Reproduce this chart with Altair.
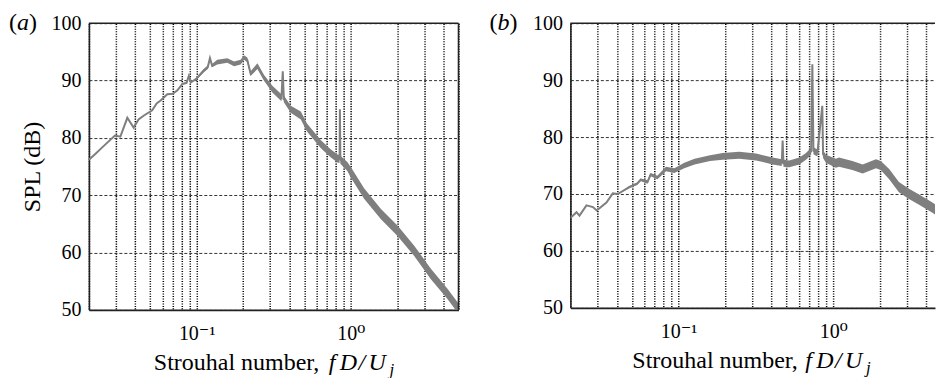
import altair as alt
import pandas as pd

FONT = "'Liberation Serif', 'Times New Roman', Times, 'DejaVu Serif', serif"

# ---------------- data ----------------
st_a = [0.020, 0.022, 0.025, 0.0295, 0.032, 0.0355, 0.039, 0.042, 0.0455, 0.0515,
        0.055, 0.0584, 0.0645, 0.070, 0.075, 0.081, 0.086, 0.089, 0.092, 0.0995,
        0.111, 0.118, 0.122, 0.126, 0.136, 0.158, 0.175, 0.193, 0.203, 0.213,
        0.224, 0.248, 0.273, 0.31, 0.355, 0.362, 0.368, 0.408, 0.474, 0.52,
        0.64, 0.74, 0.82, 0.846, 0.850, 0.856, 0.95, 1.0, 1.22, 1.57,
        2.01, 2.58, 3.30, 4.24, 5.0]
spl_a = [76.2, 77.2, 78.6, 80.4, 80.2, 83.5, 81.8, 83.2, 83.9, 84.8,
         86.0, 86.5, 87.6, 87.7, 88.3, 89.4, 89.6, 90.8, 89.7, 90.3,
         91.7, 92.3, 93.9, 92.6, 93.2, 93.5, 92.9, 93.2, 94.0, 93.6,
         91.2, 92.5, 90.5, 88.5, 87.0, 91.6, 86.8, 85.0, 83.9, 81.8,
         78.9, 77.3, 76.4, 76.3, 85.0, 76.2, 75.0, 74.0, 70.3, 66.7,
         63.8, 60.3, 56.3, 52.8, 50.2]
spread_a = [0, 0, 0, 0, 0, 0, 0, 0, 0, 0,
            0, 0, 0, 0, 0, 0, 0, 0, 0, 0.2,
            0.3, 0.3, 0, 0.3, 0.4, 0.4, 0.4, 0.4, 0.4, 0.4,
            0.4, 0.5, 0.5, 0.6, 0.6, 0, 0.6, 0.6, 0.7, 0.7,
            0.7, 0.7, 0.7, 0.7, 0, 0.7, 0.8, 0.9, 0.9, 0.9,
            0.9, 0.9, 0.9, 0.9, 0.9]

st_b = [0.020, 0.0219, 0.0229, 0.0254, 0.028, 0.0296, 0.0342, 0.0376, 0.0405, 0.048,
        0.054, 0.057, 0.063, 0.066, 0.073, 0.083, 0.094, 0.109, 0.127, 0.16,
        0.193, 0.247, 0.317, 0.406, 0.465, 0.471, 0.477, 0.52, 0.604, 0.667,
        0.72, 0.733, 0.745, 0.79, 0.850, 0.86, 0.897, 1.04, 1.09, 1.33,
        1.55, 1.89, 2.03, 2.30, 2.66, 3.09, 3.59, 4.38, 4.55]
spl_b = [65.8, 66.8, 66.2, 68.0, 67.7, 67.1, 68.5, 70.1, 70.0, 71.2,
         71.8, 72.5, 72.1, 73.4, 72.9, 74.4, 74.1, 75.0, 75.7, 76.3,
         76.6, 76.8, 76.5, 75.8, 75.5, 79.4, 75.4, 75.3, 75.8, 76.6,
         77.5, 92.8, 77.6, 77.2, 85.5, 77.0, 76.2, 75.4, 75.6, 75.0,
         74.4, 75.3, 75.0, 73.5, 71.2, 70.0, 69.0, 67.6, 67.3]
spread_b = [0, 0, 0, 0, 0, 0, 0, 0, 0, 0.2,
            0.2, 0.2, 0.3, 0.3, 0.3, 0.4, 0.4, 0.5, 0.5, 0.5,
            0.6, 0.6, 0.6, 0.6, 0.6, 0, 0.6, 0.6, 0.6, 0.6,
            0.6, 0, 0.6, 0.6, 0, 0.7, 0.7, 0.8, 0.8, 0.8,
            0.8, 0.8, 0.8, 0.9, 0.9, 0.9, 0.9, 0.9, 0.9]

x_grid = [0.02, 0.03, 0.04, 0.05, 0.06, 0.07, 0.08, 0.09,
          0.1, 0.2, 0.3, 0.4, 0.5, 0.6, 0.7, 0.8, 0.9,
          1, 2, 3, 4, 5]
y_ticks = [50, 60, 70, 80, 90, 100]

panel_labels = ["a", "b"]
x_title_main = "Strouhal number,"
x_title_ital = ["f", "D", "/", "U"]
x_title_sub = "j"
y_title = "SPL (dB)"

LINE_COLOR = "#7f7f7f"


def txt(s, x, y, size=22, style="normal"):
    return alt.Chart(pd.DataFrame({"k": [0]})).mark_text(
        text=s, font=FONT, fontSize=size, fontStyle=style, align="left",
        baseline="alphabetic", color="black").encode(x=alt.value(x), y=alt.value(y))


def panel(st, spl, spread, xmax, width, height, letter, show_ytitle, right_border,
          title_x, ital_x, letter_x):
    df = pd.DataFrame({
        "st": st,
        "spl": spl,
        "lo": [s - d for s, d in zip(spl, spread)],
        "hi": [s + d for s, d in zip(spl, spread)],
    })
    xscale = alt.Scale(type="log", domain=[0.02, xmax], nice=False)
    yscale = alt.Scale(domain=[50, 100], nice=False, zero=False)
    xaxis = alt.Axis(
        values=x_grid,
        labelExpr="datum.value == 0.1 ? '10⁻¹' : (datum.value == 1 ? '10⁰' : '')",
        grid=True, gridColor="black", gridDash=[1.2, 1.3], gridWidth=1.5,
        ticks=False, domain=True, domainColor="#222222", domainWidth=1.6,
        labelFont=FONT, labelFontSize=20, labelColor="black", labelPadding=14,
        labelOverlap=False, labelFlush=False, title=None,
    )
    yaxis = alt.Axis(
        values=y_ticks,
        grid=True, gridColor="#333333", gridDash=[3, 2], gridWidth=1,
        ticks=False, domain=True, domainColor="#222222", domainWidth=1.6,
        labelFont=FONT, labelFontSize=20, labelColor="black", labelPadding=8,
        labelFlush=False, labelOverlap=False,
        title=y_title if show_ytitle else None,
        titleFont=FONT, titleFontSize=24, titleFontWeight="normal",
        titleColor="black", titlePadding=6,
    )
    base = alt.Chart(df)
    band = base.mark_area(color=LINE_COLOR, clip=True, opacity=1).encode(
        x=alt.X("st:Q", scale=xscale, axis=xaxis),
        y=alt.Y("lo:Q", scale=yscale, axis=yaxis),
        y2="hi:Q",
    )
    line = base.mark_line(color=LINE_COLOR, strokeWidth=2, clip=True).encode(
        x=alt.X("st:Q", scale=xscale),
        y=alt.Y("spl:Q", scale=yscale),
    )
    one = pd.DataFrame({"k": [0]})
    top = alt.Chart(one).mark_rule(color="#222222", strokeWidth=1.6).encode(
        x=alt.value(0), x2=alt.value(width), y=alt.value(0))
    layers = [band, line, top]
    if right_border:
        layers.append(alt.Chart(one).mark_rule(color="#222222", strokeWidth=1.6).encode(
            x=alt.value(width), y=alt.value(0), y2=alt.value(height)))
    ty = height + 60
    layers.append(txt(x_title_main, title_x, ty, 24))
    f, d, sl, u = x_title_ital
    layers.append(txt(f, ital_x, ty, 24, "italic"))
    layers.append(txt(d, ital_x + 11, ty, 24, "italic"))
    layers.append(txt(sl, ital_x + 30, ty, 24, "italic"))
    layers.append(txt(u, ital_x + 40, ty, 24, "italic"))
    layers.append(txt(x_title_sub, ital_x + 61, ty + 5, 17, "italic"))
    # panel letter "(a)"
    ly = 7
    layers.append(txt("(", letter_x, ly, 24))
    layers.append(txt(letter, letter_x + 8, ly, 24, "italic"))
    layers.append(txt(")", letter_x + 20, ly, 24))
    return alt.layer(*layers).properties(width=width, height=height)


pa = panel(st_a, spl_a, spread_a, 5.0, 370, 287, panel_labels[0], True, True,
           65, 240, -80)
pb = panel(st_b, spl_b, spread_b, 4.55, 365, 285, panel_labels[1], False, False,
           62, 235, -81)

chart = alt.hconcat(pa, pb, spacing=28).properties(
    padding={"left": 8, "top": 10, "right": 0, "bottom": 0},
    background="white",
).configure_view(stroke="transparent")

chart.save("out.html", embed_options={"renderer": "svg", "actions": False})
